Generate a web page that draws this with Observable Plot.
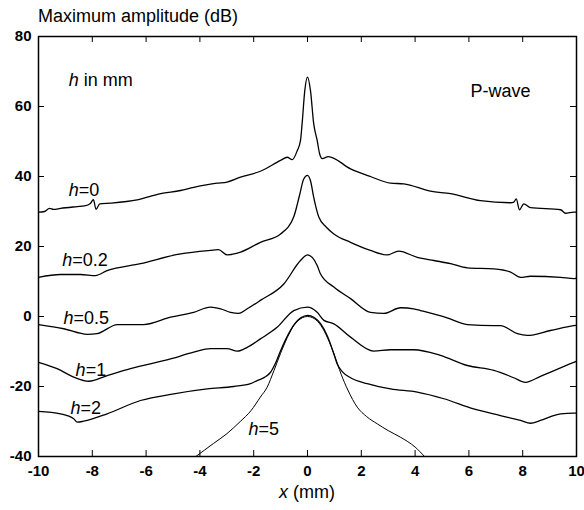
<!DOCTYPE html>
<html><head><meta charset="utf-8">
<script src="https://cdn.jsdelivr.net/npm/d3@7"></script>
<script src="https://cdn.jsdelivr.net/npm/@observablehq/plot@0.6"></script>
<style>
body{margin:0;background:#fff;font-family:"Liberation Sans",Arial,sans-serif;color:#000;}
#title{height:28px;line-height:32px;font-size:18px;padding-left:38px;white-space:nowrap;}
#xlabel{height:32px;line-height:28px;font-size:18px;text-align:center;width:584px;padding-left:30px;box-sizing:border-box;}
#chart svg{display:block;}
</style></head><body>
<div id="title">Maximum amplitude (dB)</div>
<div id="chart"></div>
<div id="xlabel"><i>x</i> (mm)</div>
<script>
const xTicks = [-10,-8,-6,-4,-2,0,2,4,6,8,10];
const yTicks = [-40,-20,0,20,40,60,80];

const h0X = [-10,-9.78,-9.59,-9.44,-9.18,-8.56,-8.29,-8.07,-7.96,-7.86,-7.72,-7.32,-6.33,-5.46,-4.72,-4.23,-3.36,-2.99,-2.49,-1.75,-1.0,-0.75,-0.57,-0.38,-0.26,-0.2,-0.1,0,0.11,0.23,0.36,0.45,0.55,0.77,1.6,2.34,3.09,3.58,4.57,5.32,6.43,7.55,7.67,7.76,7.88,8.04,8.29,9.41,9.59,9.9,10];
const h0Y = [29.8,30.0,30.9,30.6,30.9,31.4,31.6,32.3,33.4,30.6,32.2,32.4,33.3,35.1,36.0,36.9,38.1,38.4,39.8,41.5,44.6,45.5,44.8,47.4,50.3,55.1,64.6,68.4,64.6,55.1,50.3,46.5,45.1,45.7,42.2,40.0,38.1,37.9,35.8,35.1,33.1,32.5,32.7,33.6,30.5,32.2,31.1,30.5,29.5,29.8,29.8];

const h02X = [-10,-9.18,-8.44,-7.88,-7.45,-6.21,-4.72,-3.61,-3.31,-2.99,-2.49,-1.75,-1.0,-0.51,-0.3,-0.14,0,0.12,0.23,0.42,0.7,0.98,1.6,2.34,2.96,3.39,4.08,4.7,5.32,5.94,6.93,7.55,7.92,8.29,9.41,9.9,10];
const h02Y = [11.2,12.0,12.0,11.7,13.1,15.1,17.9,18.9,19.1,17.6,18.4,21.2,23.6,28.5,34.5,39.3,40.3,38.5,34.1,28.4,25.5,23.6,21.2,18.9,17.6,18.7,16.9,16.0,15.1,13.9,13.6,12.7,11.2,11.5,11.2,10.8,11.0];

const h05X = [-10,-9.06,-8.19,-7.82,-7.07,-6.09,-5.09,-4.23,-3.61,-3.23,-2.86,-2.55,-2.24,-1.75,-0.88,-0.26,0,0.36,0.48,0.98,1.6,2.34,2.84,3.46,3.95,4.2,5.19,5.94,6.93,7.17,7.8,8.17,9.03,9.9,10];
const h05Y = [-2.3,-3.5,-5.1,-4.9,-2.3,-2.3,-0.2,1.2,2.7,2.2,1.2,0.9,2.2,4.6,9.3,16.0,17.6,14.6,12.2,8.4,5.1,1.2,0.9,2.5,2.2,1.7,-0.4,-2.3,-2.6,-2.6,-4.9,-5.4,-4.0,-2.6,-2.5];

const h1X = [-10,-9.31,-8.69,-8.13,-7.45,-6.58,-5.09,-4.23,-3.61,-2.99,-2.61,-2.24,-1.75,-1.13,-0.51,0,0.36,0.61,0.98,1.6,2.46,3.09,3.95,4.94,5.94,6.93,7.67,8.1,8.66,9.9,10];
const h1Y = [-13.1,-14.9,-17.3,-18.5,-16.9,-14.9,-12.1,-10.2,-9.2,-9.2,-9.9,-8.8,-6.4,-3.1,1.7,2.7,1.2,-1.1,-2.1,-5.9,-9.9,-9.5,-9.5,-11.1,-14.0,-15.4,-17.5,-18.8,-17.1,-13.1,-12.8];

const h2X = [-10,-9.18,-8.69,-8.56,-8.32,-7.45,-6.21,-4.97,-3.73,-2.74,-2.12,-1.87,-1.6,-1.38,-1.2,-1.0,-0.75,-0.5,-0.25,0,0.25,0.5,0.75,0.95,1.1,1.3,1.6,2.22,3.09,4.08,5.07,6.18,7.17,7.92,8.29,8.66,9.41,9.9,10];
const h2Y = [-27.1,-27.8,-29.2,-30.2,-29.9,-27.8,-24.0,-22.1,-20.7,-20.0,-19.2,-18.3,-17.4,-16.0,-13.5,-9.8,-5.6,-2.3,-0.4,0.3,-0.3,-2.2,-5.8,-10.0,-13.5,-15.8,-17.5,-19.2,-20.7,-21.6,-23.5,-26.4,-28.3,-29.7,-30.5,-29.7,-27.8,-27.6,-27.6];

const h5X = [-4.15,-3.5,-3.0,-2.5,-2.1,-1.75,-1.5,-1.25,-1.0,-0.75,-0.5,-0.25,0,0.25,0.5,0.75,1.0,1.25,1.5,1.85,2.2,2.6,3.0,3.46,4.0,4.35];
const h5Y = [-40,-36.3,-33.5,-30.0,-26.9,-23.0,-20.2,-15.5,-10.5,-6.0,-2.5,-0.6,0.0,-0.6,-2.6,-6.2,-11.0,-16.5,-21.0,-25.9,-28.6,-30.7,-32.6,-34.5,-37.3,-40];

const labelText = ["h in mm","P-wave","h=0","h=0.2","h=0.5","h=1","h=2","h=5"];
const labelX = [-8.88,6.06,-8.88,-9.12,-9.07,-8.62,-8.81,-2.19];
const labelY = [67.4,64.3,36.0,16.0,-0.4,-15.4,-26.3,-32.1];

const seriesDefs = [
  ["0", h0X, h0Y], ["0.2", h02X, h02Y], ["0.5", h05X, h05Y],
  ["1", h1X, h1Y], ["2", h2X, h2Y], ["5", h5X, h5Y]
];
const rows = seriesDefs.flatMap(([h, xs, ys]) => xs.map((x, i) => ({h, x, y: ys[i]})));
const labels = labelText.map((t, i) => ({t, x: labelX[i], y: labelY[i]}));

const W = 584, H = 450, mL = 38, mR = 8, mT = 8, mB = 22;
const fw = W - mL - mR, fh = H - mT - mB;
const tl = 6;

const chart = Plot.plot({
  width: W, height: H,
  marginLeft: mL, marginRight: mR, marginTop: mT, marginBottom: mB,
  style: {fontFamily: "'Liberation Sans', Arial, sans-serif", fontSize: "15px", background: "white", overflow: "visible", color: "black"},
  x: {domain: [-10, 10]},
  y: {domain: [-40, 80]},
  marks: [
    Plot.axisX(xTicks, {tickSize: 0, tickPadding: 9, tickFormat: d => String(d), label: null}),
    Plot.axisY(yTicks, {tickSize: 0, tickPadding: 7, tickFormat: d => String(d), label: null}),
    Plot.tickX(xTicks, {x: d => d, insetTop: fh - tl, stroke: "black", strokeWidth: 1}),
    Plot.tickX(xTicks, {x: d => d, insetBottom: fh - tl, stroke: "black", strokeWidth: 1}),
    Plot.tickY(yTicks, {y: d => d, insetRight: fw - tl, stroke: "black", strokeWidth: 1}),
    Plot.tickY(yTicks, {y: d => d, insetLeft: fw - tl, stroke: "black", strokeWidth: 1}),
    Plot.line(rows, {x: "x", y: "y", z: "h", stroke: "black", strokeWidth: d => d.h === "5" ? 1 : 1.3, curve: "monotone-x", clip: true}),
    Plot.text(labels, {x: "x", y: "y", text: "t", textAnchor: "start", fontSize: 18, fill: "black"}),
    Plot.frame({stroke: "black", strokeWidth: 1.5})
  ]
});
document.getElementById("chart").appendChild(chart);

// styling of tick labels and italic "h"
chart.querySelectorAll('g[aria-label="x-axis tick label"], g[aria-label="y-axis tick label"]').forEach(g => {
  g.setAttribute("font-weight", "bold");
  g.setAttribute("font-size", "15");
});
chart.querySelectorAll('g[aria-label="text"] text').forEach(el => {
  const t = el.textContent;
  if (t.startsWith("h")) {
    el.textContent = "";
    const ns = "http://www.w3.org/2000/svg";
    const a = document.createElementNS(ns, "tspan");
    a.setAttribute("font-style", "italic");
    a.textContent = "h";
    const b = document.createElementNS(ns, "tspan");
    b.textContent = t.slice(1);
    el.appendChild(a); el.appendChild(b);
  }
});
</script>
</body></html>
